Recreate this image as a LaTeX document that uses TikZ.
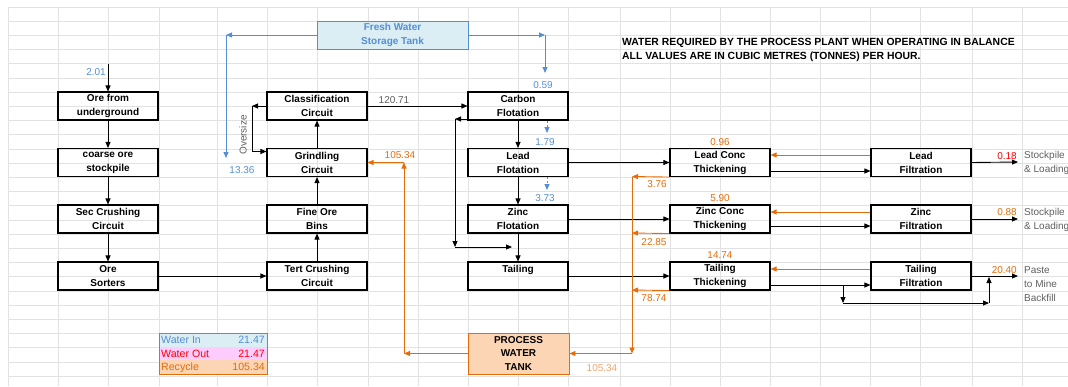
\documentclass[tikz,border=0pt]{standalone}
\usepackage{fontspec}
\setmainfont{Liberation Sans}
\usepackage{tikz}
\usetikzlibrary{arrows.meta, positioning, calc}

\definecolor{fwblue}{RGB}{85,142,213}
\definecolor{fwfill}{RGB}{218,238,243}
\definecolor{rcorange}{RGB}{228,108,10}
\definecolor{rcfill}{RGB}{252,213,180}
\definecolor{rclight}{RGB}{240,165,110}
\definecolor{outred}{RGB}{255,0,0}
\definecolor{outfill}{RGB}{255,204,255}
\definecolor{notegray}{RGB}{95,95,95}
\definecolor{cellgray}{RGB}{226,226,226}

\begin{document}
\begin{tikzpicture}[x=1pt, y=-1pt,
  every node/.style={font=\fontsize{10}{12}\selectfont, inner sep=0pt},
  unit/.style={draw, line width=1.1pt, minimum width=100pt, minimum height=28pt,
    align=center, font=\bfseries\fontsize{10}{14}\selectfont},
  tank/.style={draw, line width=0.9pt, minimum height=28pt,
    align=center, font=\bfseries\fontsize{10}{13.5}\selectfont},
  flow/.style={-{Triangle[length=6pt,width=5pt]}, line width=0.9pt},
  fresh/.style={flow, draw=fwblue},
  recyc/.style={flow, draw=rcorange},
  blueval/.style={text=fwblue},
  orval/.style={text=rcorange},
  note/.style={text=notegray, align=left, font=\fontsize{10}{14}\selectfont},
  gridline/.style={draw=cellgray, line width=0.8pt}]

  \useasboundingbox (0,0) rectangle (1068,386);

  % --- spreadsheet cells behind the sheet ---
  \foreach \gx in {8,58,108,159,217,267,317,368,418,468,518,568,620,670,720,770,820,870,920,972,1022}
    \draw[gridline] (\gx,7) -- (\gx,386);
  \foreach \k in {0,...,26}
    \draw[gridline] (8,{7+14.2*\k}) -- (1068,{7+14.2*\k});

  % --- process units: name/x/y/text ---
  \foreach \name/\x/\y/\txt in {
    ore/108/106/{Ore from\\underground},
    coarse/108/162.5/{coarse ore\\stockpile},
    seccrush/108/219/{Sec Crushing\\Circuit},
    sorters/108/276/{Ore\\Sorters},
    classif/317/106/{Classification\\Circuit},
    grind/317/162.5/{Grindling\\Circuit},
    fineore/317/219/{Fine Ore\\Bins},
    tertcrush/317/276/{Tert Crushing\\Circuit},
    carbon/518/106/{Carbon\\Flotation},
    lead/518/162.5/{Lead\\Flotation},
    zinc/518/219/{Zinc\\Flotation},
    tailing/518/276/{Tailing\\\mbox{}},
    leadthk/720/162.5/{Lead Conc\\Thickening},
    zincthk/720/219/{Zinc Conc\\Thickening},
    tailthk/720/276/{Tailing\\Thickening},
    leadfilt/921/162.5/{Lead\\Filtration},
    zincfilt/921/219/{Zinc\\Filtration},
    tailfilt/921/276/{Tailing\\Filtration}}
    \node[unit] (\name) at (\x,\y) {\txt};

  % Tanks
  \node[tank, fill=fwfill, draw=fwblue, text=fwblue, minimum width=151pt]
    (fresh) at (392.5,35) {Fresh Water\\Storage Tank};
  \node[tank, fill=rcfill, draw=rcorange, minimum width=101pt, minimum height=41pt]
    (pwt) at (518.5,353.5) {PROCESS\\WATER\\TANK};

  % Note
  \node[anchor=west, align=left, font=\bfseries\fontsize{10.4}{14}\selectfont]
    (balnote) at (622,50) {WATER REQUIRED BY THE PROCESS PLANT WHEN OPERATING IN BALANCE\\
    ALL VALUES ARE IN CUBIC METRES (TONNES) PER HOUR.};

  % --- ore circuit ---
  \coordinate (feedin) at (108,64);
  \draw[flow] (feedin) -- (ore);
  \node[blueval, anchor=east] (v201) at (106,72) {2.01};
  \draw[flow] (ore) -- (coarse);
  \draw[flow] (coarse) -- (seccrush);
  \draw[flow] (seccrush) -- (sorters);
  \draw[flow] (sorters) -- (tertcrush);
  \draw[flow] (tertcrush) -- (fineore);
  \draw[flow] (fineore) -- (grind);
  \draw[flow] (grind) -- (classif);

  % Oversize return
  \coordinate (ovs) at (252,106);
  \draw[flow] (classif.west) -- (ovs);
  \draw[flow] (ovs) |- ([yshift=11pt]grind.west);
  \node[rotate=90, text=notegray] (ovslbl) at (243,135) {Oversize};

  \draw[flow] (classif) -- (carbon);
  \node[text=notegray] (v12071) at (394,100) {120.71};

  % --- fresh water ---
  \coordinate (fwl) at (226,35);
  \coordinate (fwgrind) at (226,158);
  \coordinate (fwr) at (545,35);
  \coordinate (fwcarbon) at (545,73);
  \draw[fresh] (fresh.west) -- (fwl);
  \draw[fresh] (fwl) -- (fwgrind);
  \draw[fresh] (fresh.east) -- (fwr);
  \draw[fresh] (fwr) -- (fwcarbon);
  \node[blueval] (v1336) at (242,170) {13.36};
  \node[blueval] (v059) at (543,85) {0.59};

  % --- flotation ---
  \draw[flow] (carbon) -- (lead);
  \draw[flow] (lead) -- (zinc);
  \draw[flow] (zinc) -- (tailing);
  \coordinate (d179) at (547,133);
  \coordinate (d373) at (547,190);
  \draw[fresh, dashed, dash pattern=on 2pt off 2pt] ([xshift=29pt]carbon.south) -- (d179);
  \draw[fresh, dashed, dash pattern=on 2pt off 2pt] ([xshift=29pt]lead.south) -- (d373);
  \node[blueval] (v179) at (545,142) {1.79};
  \node[blueval] (v373) at (545,198) {3.73};

  % Carbon tails to tailing
  \coordinate (cbl) at (455,119);
  \coordinate (cbd) at (455,247);
  \coordinate (tle) at (512,247);
  \draw[flow] ([yshift=-13pt]carbon.west) -- (cbl);
  \draw[flow] (cbl) -- (cbd);
  \draw[flow] (cbd) -- (tle);

  \draw[flow] (lead) -- (leadthk);
  \draw[flow] (zinc) -- (zincthk);
  \draw[flow] (tailing) -- (tailthk);

  % --- thickening / filtration ---
  \draw[flow] ([yshift=-8.5pt]leadthk.east) -- ([yshift=-8.5pt]leadfilt.west);
  \draw[recyc] ([yshift=7.5pt]leadfilt.west) -- ([yshift=7.5pt]leadthk.east);
  \draw[flow] ([yshift=-7pt]zincthk.east) -- ([yshift=-7pt]zincfilt.west);
  \draw[recyc] ([yshift=7pt]zincfilt.west) -- ([yshift=7pt]zincthk.east);
  \draw[flow] ([yshift=-9pt]tailthk.east) -- ([yshift=-9pt]tailfilt.west);
  \draw[recyc] ([yshift=7pt]tailfilt.west) -- ([yshift=7pt]tailthk.east);
  \node[orval] (v096) at (720,142) {0.96};
  \node[orval] (v590) at (720,198) {5.90};
  \node[orval] (v1474) at (720,255) {14.74};

  % Tailing bypass
  \coordinate (tb0) at (843,285);
  \coordinate (tb1) at (843,303);
  \coordinate (tb2) at (989,303);
  \coordinate (tb3) at (989,277);
  \draw[flow] (tb0) -- (tb1);
  \draw[flow] (tb1) -- (tb2);
  \draw[flow] (tb2) -- (tb3);

  % Products
  \coordinate (leadout) at (1018,162);
  \coordinate (zincout) at (1018,219);
  \coordinate (tailout) at (1018,276);
  \draw[flow] (leadfilt.east) -- (leadout);
  \draw[flow] (zincfilt.east) -- (zincout);
  \draw[flow] (tailfilt.east) -- (tailout);
  \node[text=outred, anchor=east] (v018) at (1017,156) {0.18};
  \node[orval, anchor=east] (v088) at (1017,212) {0.88};
  \node[orval, anchor=east] (v2040) at (1017,270) {20.40};
  \node[note, anchor=west] (leaddest) at (1024,163) {Stockpile\\\& Loading};
  \node[note, anchor=west] (zincdest) at (1024,219.5) {Stockpile\\\& Loading};
  \node[note, anchor=west] (taildest) at (1024,284) {Paste\\to Mine\\Backfill};

  % --- recycle water ---
  \coordinate (rc1) at (632,176.5);
  \coordinate (rc2) at (632,233);
  \coordinate (rc3) at (632,290);
  \coordinate (rcb) at (632,353.5);
  \draw[recyc] (leadthk.south west) -- (rc1);
  \draw[recyc] (zincthk.south west) -- (rc2);
  \draw[recyc] (tailthk.south west) -- (rc3);
  \draw[recyc] (rc1) -- (rcb);
  \draw[recyc] (rcb) -- (pwt.east);
  \node[orval] (v376) at (657,184) {3.76};
  \node[orval] (v2285) at (654,242) {22.85};
  \node[orval] (v7874) at (654,298) {78.74};
  \node[text=rclight] (v10534b) at (602,368) {105.34};

  \coordinate (rg1) at (404,353.5);
  \coordinate (rg2) at (404,162.5);
  \draw[recyc] (pwt.west) -- (rg1);
  \draw[recyc] (rg1) -- (rg2);
  \draw[recyc] (rg2) -- (grind.east);
  \node[orval] (v10534) at (400,155) {105.34};

  % --- balance table ---
  \foreach \row/\lbl/\val/\fc/\tc [count=\i] in {
      in/Water In/21.47/fwfill/fwblue,
      out/Water Out/21.47/outfill/outred,
      rec/Recycle/105.34/rcfill/rcorange} {
    \fill[\fc] (159,{333+13.67*(\i-1)}) rectangle (267,{333+13.67*\i});
    \node[text=\tc, anchor=west, font=\fontsize{10.6}{12}\selectfont]
      (leg\row) at (161,{340+13.67*(\i-1)}) {\lbl};
    \node[text=\tc, anchor=east, font=\fontsize{10.6}{12}\selectfont]
      (val\row) at (265,{340+13.67*(\i-1)}) {\val};
  }
  \draw[rcorange, line width=0.9pt] (159,333) rectangle (267,374);
\end{tikzpicture}
\end{document}
